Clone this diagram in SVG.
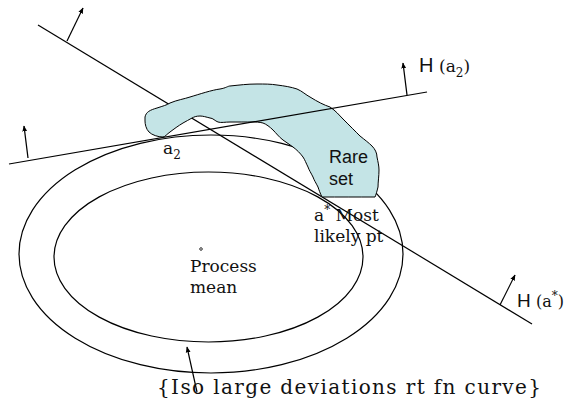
<svg xmlns="http://www.w3.org/2000/svg" width="567" height="401" viewBox="0 0 567 401">
<style>
.ln{fill:none;stroke:#000;stroke-width:1.2}
.ar{fill:none;stroke:#000;stroke-width:1.2;marker-end:url(#ah)}
.sf{font-family:"DejaVu Serif","Liberation Serif",serif;font-size:17px;fill:#111}
.ss{font-family:"Liberation Sans",Arial,sans-serif;font-size:18px;fill:#111}
.sub{font-size:12px}
</style>
<defs>
<marker id="ah" viewBox="0 0 10 10" refX="9" refY="5" markerWidth="6" markerHeight="6" orient="auto" markerUnits="userSpaceOnUse">
<path d="M0,1 L10,5 L0,9 z" fill="#000"/>
</marker>
</defs>
<rect width="567" height="401" fill="#fff"/>
<g id="outer-curve"><ellipse class="ln" cx="211" cy="254" rx="192" ry="119"/></g>
<g id="inner-curve"><ellipse class="ln" cx="208.5" cy="257" rx="154.5" ry="85"/></g>
<g id="connectors-back">
<line class="ln" x1="38" y1="25" x2="532" y2="324"/>
</g>
<g id="rare-set">
<path d="M145,117 C146,112 150,110 157,108 C163,106 167,105 170,103 C177,100 184,99 190,97 C200,94 212,90 220,89 C226,88 228,86 230,86 C240,85 247,84 257,84 C265,84 271,84 277,85 C285,86 291,87 297,89 C302,91 306,95 310,97 C318,102 324,105 330,107 C336,111 339,115 343,119 C350,126 355,131 360,136 C365,140 369,143 372,146 C375,149 377,153 377,157 C378,162 379,166 379,170 C379,176 378,182 378,187 C377,191 376,195 375,197 C358,197 338,197 322,197 C320,193 319,190 318,187 C316,183 314,180 313,177 C311,173 309,170 308,167 C306,163 305,160 303,157 C300,153 297,150 293,147 C290,145 286,142 283,140 C279,137 276,133 273,130 C270,127 266,124 263,123 C259,122 256,122 253,122 C246,122 238,122 230,122 C225,122 221,123 218,122 C215,121 213,118 210,118 C206,117 203,116 200,116 C196,116 194,117 192,118 C189,120 186,121 183,123 C178,126 174,129 170,132 C167,134 165,137 163,137 C158,137 152,135 149,132 C146,129 145,124 145,121 Z" fill="#c4e4e6" stroke="#000" stroke-width="1"/>
</g>
<g id="connectors">
<line class="ln" x1="9" y1="164" x2="427" y2="92"/>
<line class="ar" x1="67" y1="41" x2="83" y2="8"/>
<line class="ar" x1="28" y1="158" x2="24" y2="126"/>
<line class="ar" x1="407" y1="95" x2="403" y2="63"/>
<line class="ar" x1="500" y1="305" x2="515" y2="275"/>
<line class="ar" x1="197" y1="392" x2="187" y2="347"/>
</g>
<g id="process-mean">
<circle cx="201" cy="249" r="1.3" fill="none" stroke="#000" stroke-width="0.8"/>
<text class="sf" x="190" y="272">Process</text>
<text class="sf" x="190" y="293">mean</text>
</g>
<g id="label-a2"><text class="sf" x="163" y="154">a<tspan class="sub" dy="5">2</tspan></text></g>
<g id="label-rare"><text class="ss" x="329" y="163">Rare</text><text class="ss" x="329" y="185">set</text></g>
<g id="label-astar"><text class="sf" x="314" y="221">a<tspan class="sub" dy="-7">*</tspan><tspan dy="7"> Most</tspan></text><text class="sf" x="314" y="242">likely pt</text></g>
<g id="label-Ha2"><text x="419" y="72"><tspan class="ss" style="font-size:20px">H </tspan><tspan class="sf">(a<tspan class="sub" dy="5">2</tspan><tspan dy="-5">)</tspan></tspan></text></g>
<g id="label-Hastar"><text x="517" y="307"><tspan class="ss" style="font-size:19px">H </tspan><tspan class="sf" style="font-size:16px">(a<tspan class="sub" dy="-7">*</tspan><tspan dy="7">)</tspan></tspan></text></g>
<g id="label-curve"><text class="sf" x="157" y="394" style="font-size:20px" textLength="384" lengthAdjust="spacing">{Iso large deviations rt fn curve}</text></g>
</svg>
